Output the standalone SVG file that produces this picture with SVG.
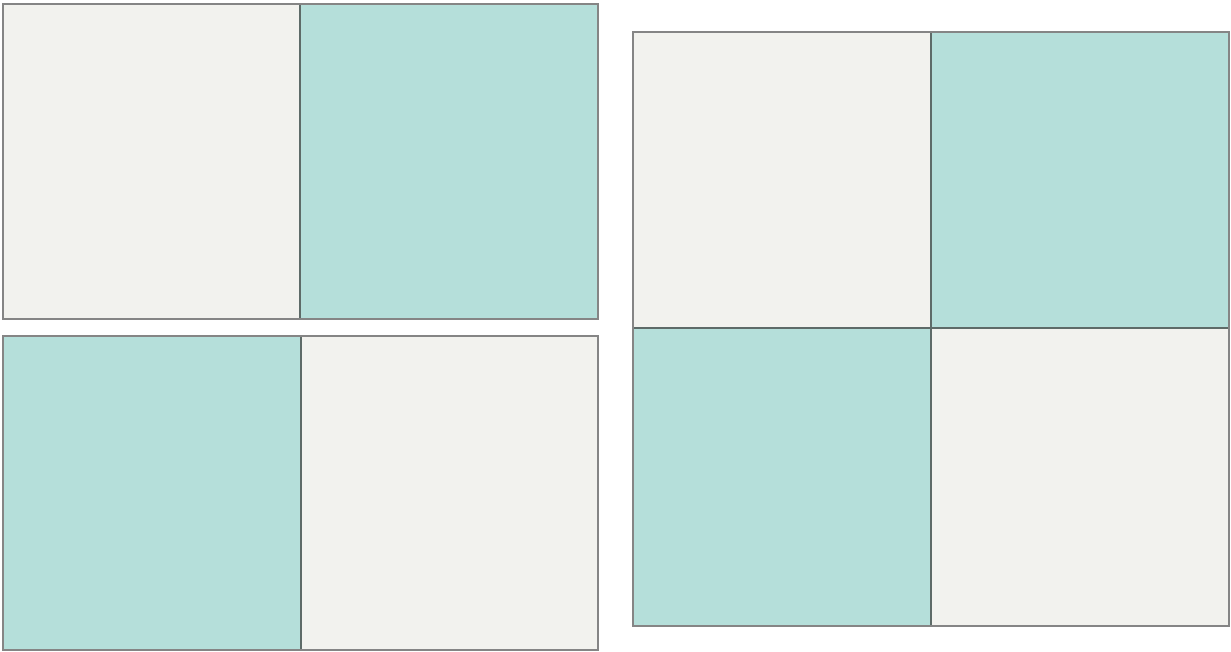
<svg xmlns="http://www.w3.org/2000/svg" width="1231" height="652" viewBox="0 0 1231 652">
<style>
.l{fill:#f2f2ee}
.t{fill:#b5dfda}
.b{fill:none;stroke:#858585;stroke-width:2}
.d{stroke:#5e6b68;stroke-width:2}
</style>
<rect width="1231" height="652" fill="#ffffff"/>
<g id="panel-top-left">
<rect class="l" x="3" y="4" width="297" height="315"/>
<rect class="t" x="300" y="4" width="298" height="315"/>
<line class="d" x1="300" y1="4" x2="300" y2="319"/>
<rect class="b" x="3" y="4" width="595" height="315"/>
</g>
<g id="panel-bottom-left">
<rect class="t" x="3" y="336" width="298" height="314"/>
<rect class="l" x="301" y="336" width="297" height="314"/>
<line class="d" x1="301" y1="336" x2="301" y2="650"/>
<rect class="b" x="3" y="336" width="595" height="314"/>
</g>
<g id="panel-right">
<rect class="l" x="633" y="32" width="298" height="296"/>
<rect class="t" x="931" y="32" width="298" height="296"/>
<rect class="t" x="633" y="328" width="298" height="298"/>
<rect class="l" x="931" y="328" width="298" height="298"/>
<line class="d" x1="931" y1="32" x2="931" y2="626"/>
<line class="d" x1="633" y1="328" x2="1229" y2="328"/>
<rect class="b" x="633" y="32" width="596" height="594"/>
</g>
</svg>
